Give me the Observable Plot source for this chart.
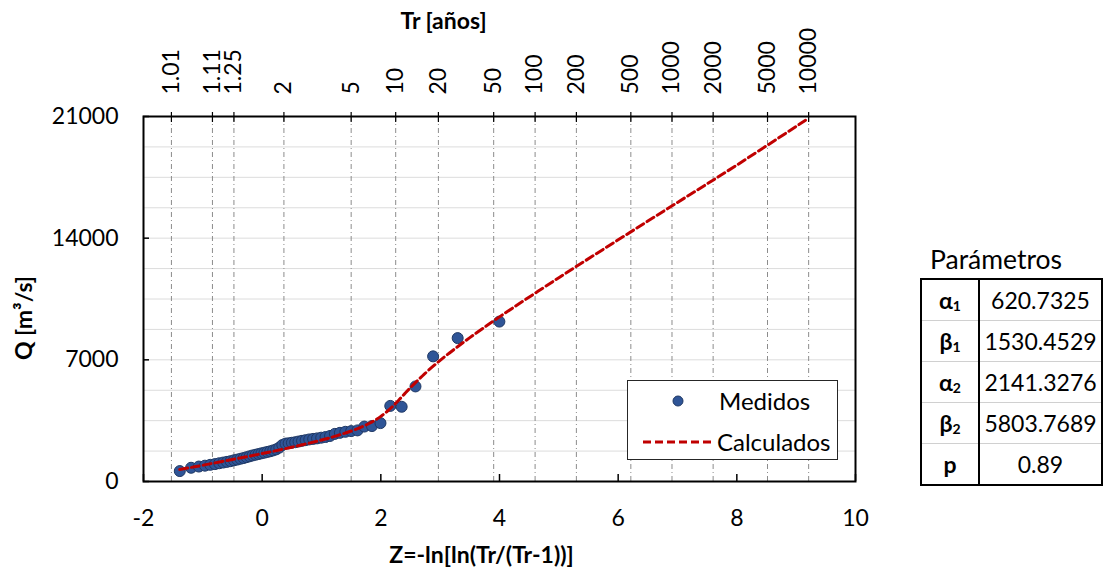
<!DOCTYPE html>
<html>
<head>
<meta charset="utf-8">
<script src="https://cdn.jsdelivr.net/npm/d3@7"></script>
<script src="https://cdn.jsdelivr.net/npm/@observablehq/plot@0.6"></script>
<style>
  body { margin: 0; background: #fff; font-family: Lato, "Open Sans", sans-serif; color: #000; }
  #wrap { position: relative; width: 1110px; height: 570px; overflow: hidden; }
  #chart { position: absolute; left: 0; top: 0; }
  #legend { position: absolute; left: 627px; top: 380px; width: 209px; height: 78px; border: 1.5px solid #262626; background: #fff; font-size: 24px; }
  #legend .row { position: absolute; left: 0; height: 30px; line-height: 30px; }
  #ptitle { position: absolute; left: 930px; top: 243px; font-size: 26.5px; line-height: 32px; }
  #ptab { position: absolute; left: 920px; top: 278px; border-collapse: collapse; border: 2px solid #000; font-size: 23px; }
  #ptab td { height: 40px; padding: 0; text-align: center; border-top: 1px solid #d0d0d0; }
  #ptab td.k { width: 56px; border-right: 2px solid #000; font-weight: bold; }
  #ptab td.v { width: 121px; }
  #ptab sub { font-size: 14px; vertical-align: -2px; }
</style>
</head>
<body>
<div id="wrap">
  <div id="chart"></div>
  <div id="legend"></div>
  <div id="ptitle">Parámetros</div>
  <table id="ptab"></table>
</div>
<script>
// ---- Data ----
const zMedidos = [-1.388,-1.198,-1.068,-0.964,-0.875,-0.796,-0.724,-0.656,-0.593,-0.533,-0.476,-0.420,-0.366,-0.313,-0.262,-0.211,-0.161,-0.111,-0.061,-0.012,0.038,0.087,0.137,0.187,0.238,0.289,0.340,0.393,0.446,0.501,0.557,0.613,0.672,0.732,0.794,0.859,0.925,0.995,1.068,1.144,1.225,1.310,1.402,1.500,1.606,1.722,1.850,1.994,2.159,2.351,2.584,2.881,3.295,3.998];
const qMedidos = [600,790,860,910,960,1000,1050,1090,1130,1170,1220,1260,1310,1350,1400,1450,1500,1540,1580,1620,1660,1700,1740,1790,1850,1950,2100,2180,2200,2230,2260,2300,2340,2380,2420,2450,2480,2520,2560,2620,2740,2800,2860,2900,2940,3160,3190,3360,4350,4300,5470,7200,8250,9200];

const zCalc = [-1.39,-1.2,-1.0,-0.5,0,0.5,1,1.25,1.5,1.65,1.8,1.9,2.0,2.1,2.2,2.3,2.4,2.5,2.6,2.7,2.8,3.0,3.25,3.5,4,5,6,7,8,9.21];
const qCalc = [686,808,937,1266,1607,1973,2385,2624,2904,3103,3339,3526,3748,4012,4324,4676,5042,5403,5749,6071,6388,6968,7641,8276,9472,11724,13903,16056,18205,20900];

const trLabels = ["1.01","1.11","1.25","2","5","10","20","50","100","200","500","1000","2000","5000","10000"];
const xTicks = [-2,0,2,4,6,8,10];
const yTicks = [0,7000,14000,21000];
const yGrid = [1750,3500,5250,7000,8750,10500,12250,14000,15750,17500,19250];

const paramNames = [["α","1"],["β","1"],["α","2"],["β","2"],["p",""]];
const paramValues = ["620.7325","1530.4529","2141.3276","5803.7689","0.89"];

// ---- Build tables for Plot ----
const medidos = zMedidos.map((z, i) => ({z, q: qMedidos[i]}));
const calc = zCalc.map((z, i) => ({z, q: qCalc[i]}));
// Return-period axis: Z = -ln(ln(Tr/(Tr-1)))
const zTr = trLabels.map(t => { const tr = +t; return -Math.log(Math.log(tr / (tr - 1))); });

const fmt = d => String(d);

const chart = Plot.plot({
  width: 1110,
  height: 570,
  marginLeft: 143,
  marginRight: 255,
  marginTop: 116,
  marginBottom: 89,
  x: {domain: [-2, 10]},
  y: {domain: [0, 21000]},
  style: {fontFamily: "Lato, 'Open Sans', sans-serif", fontSize: "23px", color: "#000", background: "transparent", overflow: "visible"},
  marks: [
    Plot.ruleY(yGrid, {stroke: "#dcdcdc", strokeWidth: 1}),
    Plot.ruleX(zTr, {stroke: "#8c8c8c", strokeWidth: 1, strokeDasharray: "5,3,1,3"}),
    Plot.dot(medidos, {x: "z", y: "q", r: 5.5, fill: "#2f5597", stroke: "#1f3864", strokeWidth: 1}),
    Plot.line(calc, {x: "z", y: "q", stroke: "#c00000", strokeWidth: 3, strokeDasharray: "8,4", curve: "catmull-rom"}),
    Plot.frame({stroke: "#000", strokeWidth: 2}),
    // y axis labels + inside ticks
    Plot.axisY({ticks: yTicks, tickSize: 0, tickPadding: 25, tickFormat: fmt, label: null, fontSize: 23}),
    Plot.axisY({ticks: yTicks, tickSize: 6, dx: 6, fill: "none", label: null, strokeWidth: 1.5}),
    // x axis labels + inside ticks
    Plot.axisX({anchor: "bottom", ticks: xTicks, tickSize: 0, tickPadding: 28, tickFormat: fmt, label: null, fontSize: 23}),
    Plot.axisX({anchor: "bottom", ticks: xTicks, tickSize: 7, dy: -7, fill: "none", label: null, strokeWidth: 1.5}),
    // top return-period axis: crossing ticks + rotated labels
    Plot.axisX({anchor: "top", ticks: zTr, tickSize: 10, dy: 5, fill: "none", label: null, strokeWidth: 1.2}),
    Plot.text(trLabels, {x: zTr, text: d => d, frameAnchor: "top", rotate: -90, textAnchor: "start", lineAnchor: "middle", dy: -22, fontSize: 23}),
    // titles
    Plot.text(["Tr [años]"], {text: d => d, frameAnchor: "top", textAnchor: "middle", lineAnchor: "middle", dx: -56, dy: -95, fontWeight: "bold", fontSize: 23}),
    Plot.text(["Z=-ln[ln(Tr/(Tr-1))]"], {text: d => d, frameAnchor: "bottom", textAnchor: "middle", lineAnchor: "middle", dx: -18, dy: 74, fontWeight: "bold", fontSize: 23}),
    Plot.text(["Q [m³/s]"], {text: d => d, frameAnchor: "left", textAnchor: "middle", lineAnchor: "middle", dx: -119, dy: 19, rotate: -90, fontWeight: "bold", fontSize: 23})
  ]
});
document.getElementById("chart").appendChild(chart);

// ---- Legend ----
const legend = document.getElementById("legend");
legend.innerHTML = `
  <svg width="209" height="78" style="position:absolute;left:0;top:0">
    <circle cx="50" cy="20" r="5" fill="#2f5597" stroke="#1f3864" stroke-width="1"></circle>
    <line x1="15" y1="61" x2="85" y2="61" stroke="#c00000" stroke-width="3" stroke-dasharray="8,4"></line>
  </svg>
  <div class="row" style="top:5px;left:91px">Medidos</div>
  <div class="row" style="top:46px;left:89px">Calculados</div>`;

// ---- Parameter table ----
const tab = document.getElementById("ptab");
tab.innerHTML = paramNames.map((n, i) =>
  `<tr><td class="k">${n[0]}${n[1] ? `<sub>${n[1]}</sub>` : ""}</td><td class="v">${paramValues[i]}</td></tr>`
).join("");
</script>
</body>
</html>
